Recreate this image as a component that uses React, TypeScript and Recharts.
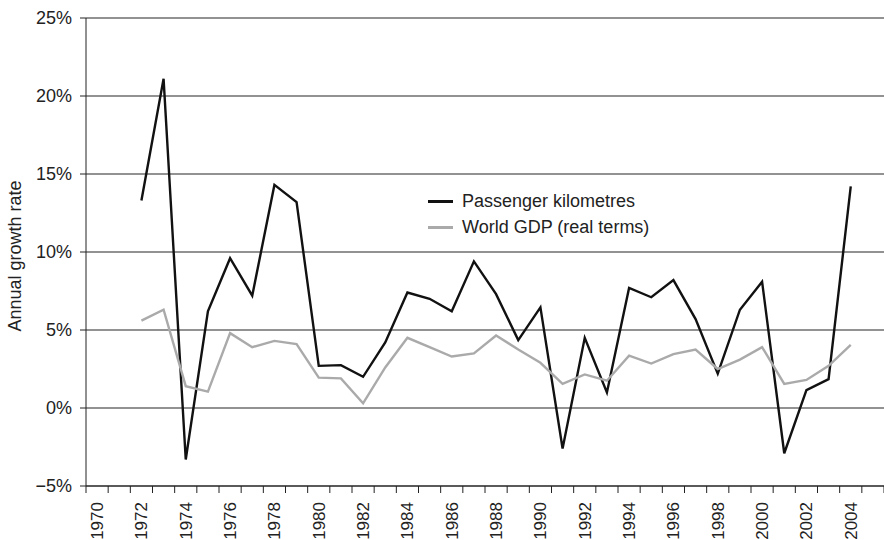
import React from "react";
import {
  CartesianGrid, Legend, Line, LineChart, XAxis, YAxis,
} from "recharts";

const years = [
  1972, 1973, 1974, 1975, 1976, 1977, 1978, 1979, 1980, 1981, 1982,
  1983, 1984, 1985, 1986, 1987, 1988, 1989, 1990, 1991, 1992, 1993,
  1994, 1995, 1996, 1997, 1998, 1999, 2000, 2001, 2002, 2003, 2004,
];
const passengerKm = [
  13.3, 21.1, -3.3, 6.2, 9.6, 7.2, 14.3, 13.2, 2.7, 2.75, 2.0,
  4.2, 7.4, 7.0, 6.2, 9.4, 7.3, 4.35, 6.45, -2.6, 4.5, 1.0,
  7.7, 7.1, 8.2, 5.7, 2.2, 6.3, 8.1, -2.9, 1.15, 1.85, 14.2,
];
const worldGdp = [
  5.6, 6.3, 1.4, 1.05, 4.8, 3.9, 4.3, 4.1, 1.95, 1.9, 0.3,
  2.6, 4.5, 3.9, 3.3, 3.5, 4.65, 3.75, 2.9, 1.55, 2.15, 1.75,
  3.35, 2.85, 3.45, 3.75, 2.5, 3.1, 3.9, 1.55, 1.8, 2.7, 4.05,
];
const axisYears = Array.from({ length: 36 }, (_, i) => 1970 + i);
const labelYears = axisYears.filter((y) => y % 2 === 0 && y < 2005);
const boundaryTicks = [...axisYears.map((y) => y - 0.5), 2005.5];
const yTicks = [-5, 0, 5, 10, 15, 20, 25];

const data = years.map((year, i) => ({
  year,
  passenger: passengerKm[i],
  gdp: worldGdp[i],
}));

const FONT = "'Liberation Sans', Arial, Helvetica, sans-serif";
const TEXT = "#222";

const YearTick = ({ x, y, payload }: any) => (
  <text
    x={x}
    y={y}
    transform={`rotate(-90 ${x} ${y})`}
    textAnchor="end"
    dy="0.35em"
    fontSize={17}
    fontFamily={FONT}
    fill={TEXT}
  >
    {payload.value}
  </text>
);

const LegendBox = ({ payload }: any) => (
  <div style={{ fontFamily: FONT, fontSize: 18, color: TEXT }}>
    {(payload || []).map((p: any) => (
      <div key={p.value} style={{ display: "flex", alignItems: "center", height: 26 }}>
        <span
          style={{
            display: "inline-block",
            width: 25,
            height: 0,
            borderTop: `3px solid ${p.color}`,
            marginRight: 9,
          }}
        />
        {p.value}
      </div>
    ))}
  </div>
);

export default function App() {
  return (
    <div style={{ position: "absolute", left: 0, top: 0, background: "#fff" }}>
      <LineChart width={884} height={540} data={data} margin={{ top: 18, right: 0, bottom: 0, left: 0 }}>
        <CartesianGrid xAxisId="a" vertical={false} stroke="#6e6e6e" strokeWidth={1.3} />
        <XAxis
          xAxisId="a"
          dataKey="year"
          type="number"
          domain={[1969.5, 2005.5]}
          ticks={boundaryTicks}
          interval={0}
          tickFormatter={() => ""}
          height={8}
          tickSize={7}
          stroke="#222"
          tick={{ fontSize: 1 }}
        />
        <XAxis
          xAxisId="b"
          dataKey="year"
          type="number"
          domain={[1969.5, 2005.5]}
          ticks={labelYears}
          interval={0}
          height={46}
          axisLine={false}
          tickLine={false}
          tick={<YearTick />}
        />
        <YAxis
          domain={[-5, 25]}
          ticks={yTicks}
          width={86}
          tickSize={6}
          tickMargin={8}
          stroke="#222"
          tick={{ fontSize: 18, fontFamily: FONT, fill: TEXT }}
          tickFormatter={(v: number) => (v < 0 ? `\u2212${-v}%` : `${v}%`)}
          label={{
            value: "Annual growth rate",
            angle: -90,
            position: "insideLeft",
            dx: 10,
            dy: 4,
            style: { fontSize: 18, fontFamily: FONT, fill: TEXT, textAnchor: "middle" },
          }}
        />
        <Legend
          content={<LegendBox />}
          layout="vertical"
          verticalAlign="middle"
          align="center"
          wrapperStyle={{ left: 428, top: 188, width: "auto" }}
        />
        <Line
          xAxisId="a"
          dataKey="passenger"
          name="Passenger kilometres"
          stroke="#111"
          strokeWidth={2.4}
          dot={false}
          isAnimationActive={false}
        />
        <Line
          xAxisId="b"
          dataKey="gdp"
          name="World GDP (real terms)"
          stroke="#aaaaaa"
          strokeWidth={2.4}
          dot={false}
          isAnimationActive={false}
        />
      </LineChart>
    </div>
  );
}
